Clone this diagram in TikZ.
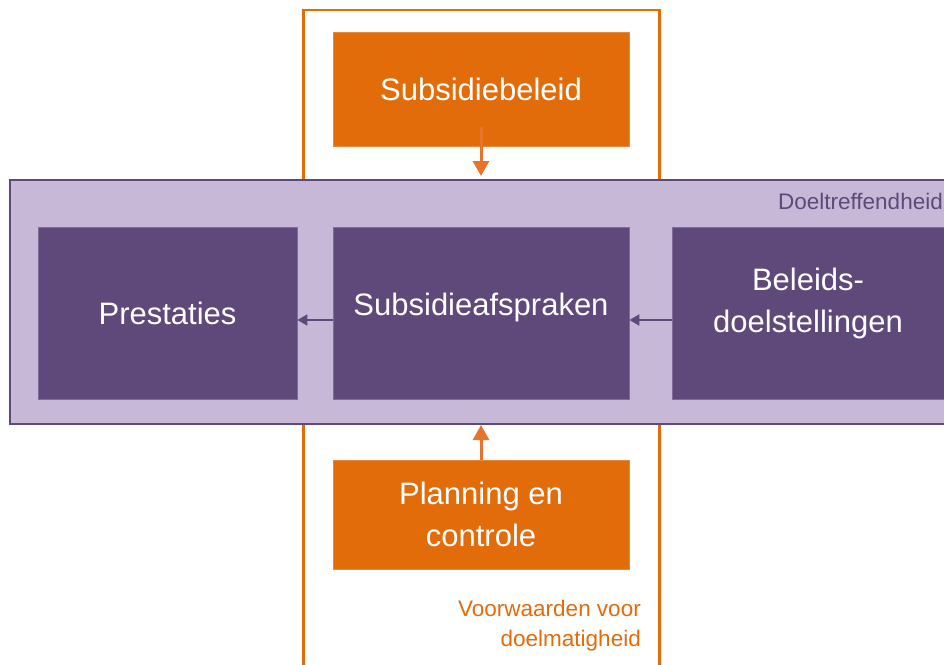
\documentclass[tikz,border=0pt]{standalone}
\usepackage{fontspec}
\setmainfont{Liberation Sans}
\usetikzlibrary{arrows.meta}
\definecolor{org}{HTML}{E36C0A}
\definecolor{orgline}{HTML}{E7742A}
\definecolor{dpur}{HTML}{5F497A}
\definecolor{lpur}{HTML}{C6B8D6}
\begin{document}
\begin{tikzpicture}[x=1pt,y=-1pt,
 big/.style={font=\fontsize{31}{42}\selectfont, text=white, align=center, inner sep=0pt},
 obox/.style={big, fill=org, draw=org!80!white, line width=0.8pt, minimum width=296pt},
 pbox/.style={big, fill=dpur, draw=dpur!80!white, line width=0.8pt, minimum height=172pt},
 band/.style={fill=lpur, draw=dpur, line width=2pt, inner sep=0pt, minimum width=950pt, minimum height=244pt},
 oarrow/.style={draw=orgline, line width=3pt, -{Triangle[length=15pt,width=16pt]}},
 parrow/.style={draw=dpur, line width=2pt, -{Triangle[length=10pt,width=11pt]}},
 small/.style={font=\fontsize{22.5}{30}\selectfont, inner sep=0pt}]
\useasboundingbox (0,0) rectangle (944,664);
\clip (0,0) rectangle (944,664);
\fill[white] (0,0) rectangle (944,664);
% orange frame
\coordinate (fbl) at (303.5,680);
\coordinate (ftl) at (303.5,10);
\coordinate (ftr) at (659.5,10);
\coordinate (fbr) at (659.5,680);
\draw[org, line width=2.2pt] (fbl) -- (ftl) -- (ftr) -- (fbr);
% top orange box
\node[obox, minimum height=114pt] (sb) at (481,89) {Subsidiebeleid};
% purple band
\node[band] (band) at (485,302) {};
\node[small, text=dpur, anchor=east] (dt) at (943,201) {Doeltreffendheid};
% purple boxes
\node[pbox, minimum width=259pt] (pr) at (167.5,313) {Prestaties};
\node[pbox, minimum width=296pt] (sa) at (481,313) {};
\node[big] (satxt) at ([yshift=6pt]sa.center) {Subsidieafspraken};
\node[pbox, minimum width=272pt] (bd) at (808,313) {};
\node[big] (bdtxt) at ([yshift=10pt]bd.center) {Beleids-\\doelstellingen};
% bottom orange box
\node[obox, minimum height=109pt] (pc) at (481,514.5) {Planning en\\controle};
\node[small, text=org, align=right, anchor=north east] (vw) at (641,600) {Voorwaarden voor\\doelmatigheid};
% arrows
\draw[oarrow, shorten >=3pt] ([yshift=19pt]sb.south) -- (sb.south |- band.north);
\draw[oarrow] (pc.north) -- (pc.north |- band.south);
\draw[parrow] ([yshift=-7pt]sa.west) -- ([yshift=-7pt]pr.east);
\draw[parrow] ([yshift=-7pt]bd.west) -- ([yshift=-7pt]sa.east);
\end{tikzpicture}
\end{document}
